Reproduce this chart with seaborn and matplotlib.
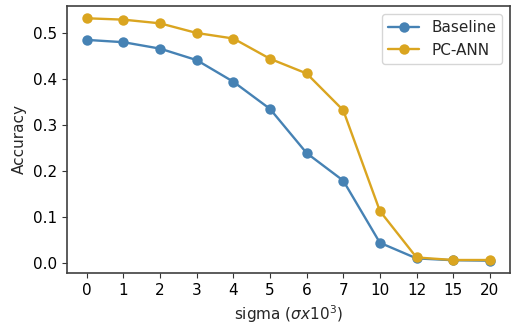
import pandas as pd
import seaborn as sns
import matplotlib
matplotlib.use("Agg")
import matplotlib.pyplot as plt

# sigma levels (x1e3) and accuracies
sigma_labels = ["0", "1", "2", "3", "4", "5", "6", "7", "10", "12", "15", "20"]
baseline_acc = [0.485, 0.480, 0.466, 0.441, 0.394, 0.335, 0.239, 0.179, 0.044, 0.010, 0.006, 0.005]
pcann_acc = [0.532, 0.529, 0.521, 0.500, 0.488, 0.444, 0.412, 0.332, 0.113, 0.012, 0.0065, 0.0065]

n = len(sigma_labels)
df = pd.DataFrame({
    "pos": list(range(n)) * 2,
    "acc": baseline_acc + pcann_acc,
    "model": ["Baseline"] * n + ["PC-ANN"] * n,
})

sns.set_style("ticks")
plt.rcParams["font.family"] = ["DejaVu Sans"]

fig, ax = plt.subplots(figsize=(5.13, 3.24), dpi=100)
fig.subplots_adjust(left=0.130, right=0.994, top=0.981, bottom=0.158)

sns.lineplot(data=df, x="pos", y="acc", hue="model",
             palette={"Baseline": "#4682B4", "PC-ANN": "#DAA520"},
             marker="o", markersize=7.5, markeredgewidth=0, linewidth=1.7, ax=ax)

ax.set_xticks(range(n))
ax.set_xticklabels(sigma_labels)
ax.set_xlabel(r"sigma ($\sigma x10^3$)", fontsize=11)
ax.set_ylabel("Accuracy", fontsize=11)
ax.tick_params(labelsize=11, colors="#333333", labelcolor="black")
for s in ax.spines.values():
    s.set_visible(True)
    s.set_color("#404040")
    s.set_linewidth(1.2)
ax.legend(loc="upper right", fontsize=11, title=None)

fig.savefig("out.png", dpi=100)
